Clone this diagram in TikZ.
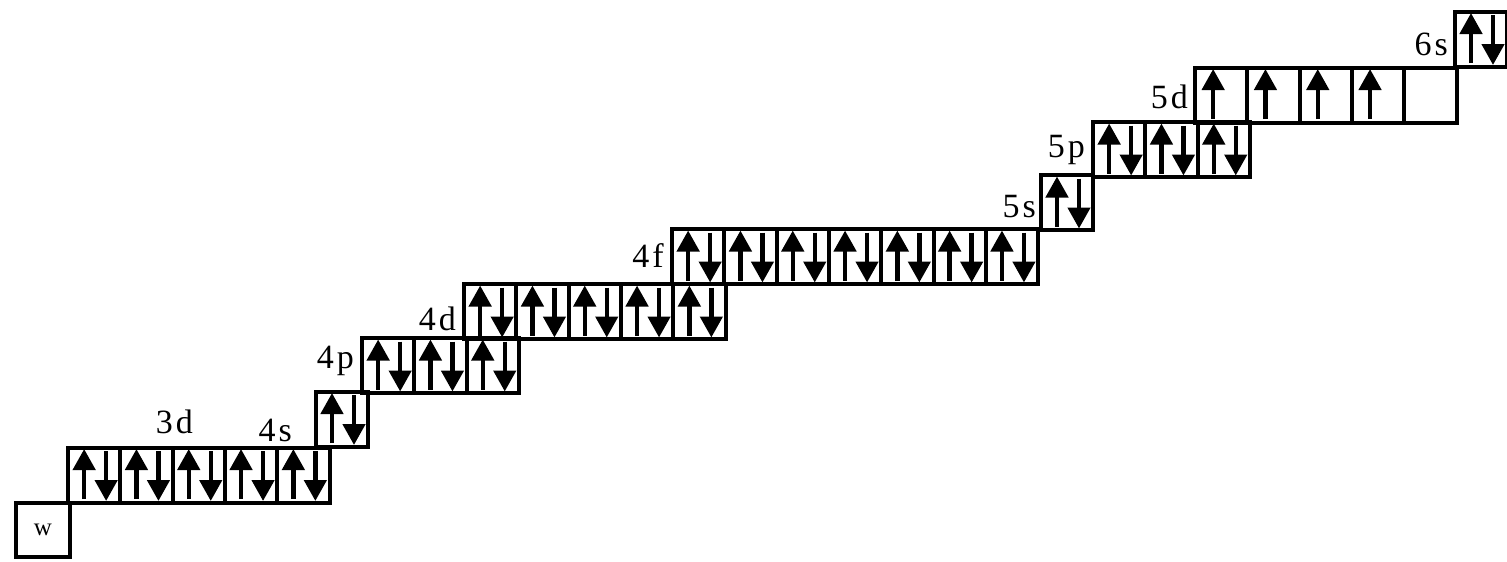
\documentclass[tikz,border=0pt]{standalone}
\usepackage{fontspec}
\setmainfont{Liberation Serif}
\usetikzlibrary{arrows.meta,calc}
\newcommand\uparr[1]{\draw[spin] ($(#1.center)+(-10,24)$) -- ($(#1.center)+(-10,-26)$);}
\newcommand\dnarr[1]{\draw[spin] ($(#1.center)+(12,-24)$) -- ($(#1.center)+(12,26)$);}
\newcommand\onearr[1]{\draw[spin] ($(#1.center)+(-8,24)$) -- ($(#1.center)+(-8,-26)$);}
\newcommand\lb[2]{#1\kern3pt#2}
\begin{document}
\begin{tikzpicture}[x=1pt,y=-1pt,
  orb/.style={draw,line width=4pt,minimum width=52.3pt,minimum height=55pt,inner sep=0pt},
  spin/.style={line width=4.5pt,-{Triangle[width=22pt,length=21pt]}},
  lbl/.style={font=\fontsize{34}{34}\selectfont,inner sep=0pt,anchor=base east}]
\useasboundingbox (0,0) rectangle (1507,562);
% W box
\node[orb,minimum width=54pt,minimum height=54pt,font=\fontsize{25}{25}\selectfont] (w) at (43,530) {w};
% 3d
\foreach \i in {1,...,5} {\node[orb] (d3-\i) at ({68+52.3*(\i-0.5)},475) {}; \uparr{d3-\i}\dnarr{d3-\i}}
% 4s
\node[orb] (s4) at (342,419) {}; \uparr{s4}\dnarr{s4}
% 4p
\foreach \i in {1,...,3} {\node[orb] (p4-\i) at ({362+52.3*(\i-0.5)},365.5) {}; \uparr{p4-\i}\dnarr{p4-\i}}
% 4d
\foreach \i in {1,...,5} {\node[orb] (d4-\i) at ({464+52.3*(\i-0.5)},311.5) {}; \uparr{d4-\i}\dnarr{d4-\i}}
% 4f
\foreach \i in {1,...,7} {\node[orb] (f4-\i) at ({672+52.3*(\i-0.5)},256.5) {}; \uparr{f4-\i}\dnarr{f4-\i}}
% 5s
\node[orb] (s5) at (1067,202.5) {}; \uparr{s5}\dnarr{s5}
% 5p
\foreach \i in {1,...,3} {\node[orb] (p5-\i) at ({1093+52.3*(\i-0.5)},149.5) {}; \uparr{p5-\i}\dnarr{p5-\i}}
% 5d
\foreach \i in {1,...,5} {\node[orb] (d5-\i) at ({1195+52.3*(\i-0.5)},95) {};}
\foreach \i in {1,...,4} {\onearr{d5-\i}}
% 6s
\node[orb] (s6) at (1481,39) {}; \uparr{s6}\dnarr{s6}
% labels
\node[lbl] (l3d) at (193,433) {\lb{3}{d}};
\node[lbl] (l4s) at (292,441) {\lb{4}{s}};
\node[lbl] (l4p) at (354,368) {\lb{4}{p}};
\node[lbl] (l4d) at (456,330) {\lb{4}{d}};
\node[lbl] (l4f) at (664,267) {\lb{4}{f}};
\node[lbl] (l5s) at (1036,217) {\lb{5}{s}};
\node[lbl] (l5p) at (1085,157) {\lb{5}{p}};
\node[lbl] (l5d) at (1188,108) {\lb{5}{d}};
\node[lbl] (l6s) at (1448,55) {\lb{6}{s}};
\end{tikzpicture}
\end{document}
